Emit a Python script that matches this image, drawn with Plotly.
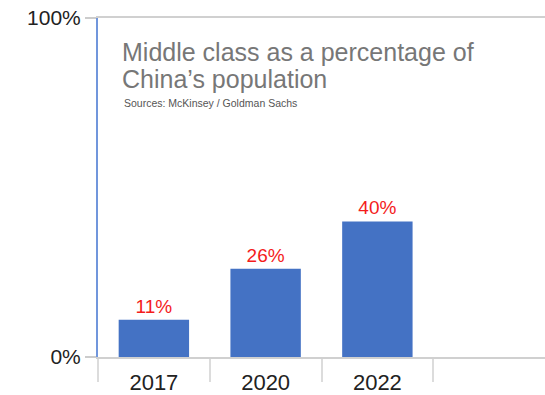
import plotly.graph_objects as go

years = ["2017", "2020", "2022"]
share = [11, 26, 40]
labels = ["11%", "26%", "40%"]
y_ticks = [0, 100]
y_tick_text = ["0%", "100%"]

title_line1 = "Middle class as a percentage of"
title_line2 = "China’s population"
source = "Sources: McKinsey / Goldman Sachs"

fig = go.Figure()
fig.add_trace(go.Bar(
    x=years, y=share, text=labels, textposition="outside",
    textfont=dict(family="Liberation Sans, Arial", size=19, color="#f41c1c"),
    marker=dict(color="#4472c4", line=dict(width=0)),
    cliponaxis=False, width=0.63,
))

fig.update_layout(
    width=545, height=395,
    margin=dict(l=98, r=0, t=18, b=36),
    paper_bgcolor="white", plot_bgcolor="white",
    showlegend=False,
    font=dict(family="Liberation Sans, Arial", color="#222"),
    xaxis=dict(
        type="category", categoryorder="array", categoryarray=years,
        range=[-0.5, 3.5], tickson="boundaries", ticks="outside",
        ticklen=23, tickcolor="#dcdcdc", tickwidth=1.5,
        showline=True, linecolor="#d0d0d0", linewidth=1.5, mirror=True,
        showgrid=False, tickfont=dict(size=22, color="#222"),
        ticklabelstandoff=5,
    ),
    yaxis=dict(
        range=[0, 100], tickvals=y_ticks, ticktext=y_tick_text,
        ticks="outside", ticklen=11, tickcolor="#cccccc", tickwidth=1.5,
        showline=True, linecolor="#7196dc", linewidth=2,
        showgrid=True, gridcolor="#cfcfcf", gridwidth=1.5,
        zeroline=False, tickfont=dict(size=21, color="#222"),
    ),
)

fig.add_annotation(text=title_line1, xref="paper", yref="paper", x=0.05, y=0.852,
                   xanchor="left", yanchor="bottom", showarrow=False,
                   font=dict(size=25, color="#777777"))
fig.add_annotation(text=title_line2, xref="paper", yref="paper", x=0.05, y=0.774,
                   xanchor="left", yanchor="bottom", showarrow=False,
                   font=dict(size=25, color="#777777"))
fig.add_annotation(text=source, xref="paper", yref="paper", x=0.053, y=0.727,
                   xanchor="left", yanchor="bottom", showarrow=False,
                   font=dict(size=10.5, color="#555555"))

fig.write_html("out.html")
